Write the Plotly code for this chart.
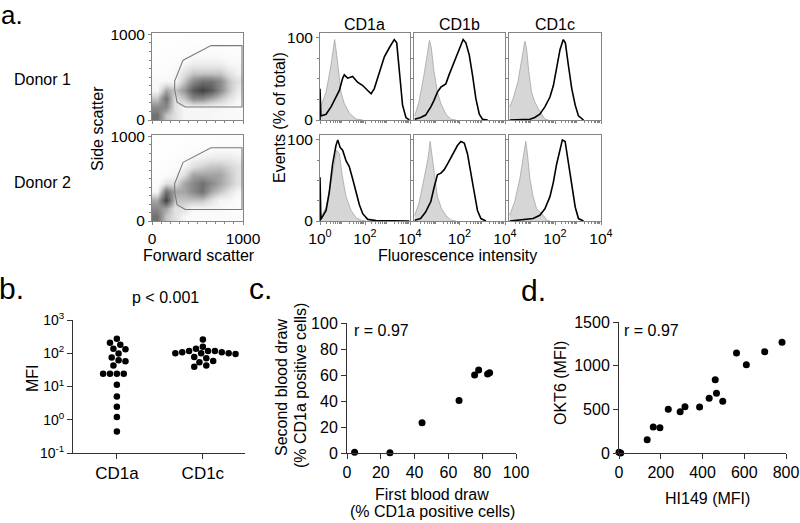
import numpy as np
import plotly.graph_objects as go

W, H = 800, 523
FONT = "Liberation Sans, Arial, sans-serif"

# ---------------- data: panel a, scatter (density) ----------------
fsc_bins = [50, 150, 250, 350, 450, 550, 650, 750, 850, 950]
ssc_bins = [50, 150, 250, 350, 450, 550, 650, 750, 850, 950]
donor1_density = [
    [6.0, 3.0, 2.0, 1.0, 1.0, 1.0, 1.0, 0.8, 0.8, 0.6],
    [5.0, 5.0, 2.0, 1.0, 1.0, 1.0, 1.0, 1.0, 0.8, 0.6],
    [3.0, 6.0, 2.0, 3.0, 5.0, 5.0, 4.0, 3.0, 2.0, 1.0],
    [1.0, 4.0, 3.0, 4.5, 7.0, 8.0, 7.0, 5.0, 3.0, 1.5],
    [0.8, 1.0, 1.0, 3.0, 5.0, 6.0, 6.0, 5.0, 3.0, 2.0],
    [0.5, 0.5, 1.0, 2.0, 3.0, 3.0, 3.0, 3.0, 2.0, 1.2],
    [0.3, 0.3, 0.5, 1.0, 1.5, 1.5, 1.5, 1.5, 1.0, 1.0],
    [0.2, 0.3, 0.3, 0.5, 0.8, 0.8, 0.8, 0.7, 0.6, 0.5],
    [0.1, 0.2, 0.2, 0.3, 0.4, 0.4, 0.4, 0.4, 0.3, 0.3],
    [0.1, 0.1, 0.1, 0.2, 0.2, 0.2, 0.2, 0.2, 0.2, 0.2],
]
donor2_density = [
    [6.0, 3.0, 2.0, 1.0, 0.5, 0.5, 0.5, 0.5, 0.5, 0.5],
    [5.0, 4.0, 2.0, 2.0, 1.0, 1.0, 1.0, 1.0, 0.5, 0.5],
    [4.0, 8.0, 3.0, 3.0, 3.0, 3.0, 2.0, 1.0, 1.0, 0.5],
    [1.0, 6.0, 4.0, 4.0, 5.0, 6.0, 4.0, 3.0, 2.0, 1.0],
    [0.5, 2.0, 2.0, 4.0, 5.0, 6.0, 5.0, 4.0, 3.0, 2.0],
    [0.3, 0.5, 1.0, 2.0, 4.0, 4.0, 4.0, 4.0, 3.0, 2.0],
    [0.2, 0.3, 0.5, 1.0, 2.0, 2.5, 3.0, 3.0, 2.5, 2.0],
    [0.1, 0.2, 0.3, 0.5, 1.0, 1.2, 1.5, 1.5, 1.5, 1.2],
    [0.1, 0.1, 0.2, 0.3, 0.5, 0.6, 0.7, 0.8, 0.8, 0.7],
    [0.1, 0.1, 0.1, 0.2, 0.3, 0.3, 0.3, 0.4, 0.4, 0.4],
]
gate1_fsc = [341, 648, 989, 989, 366, 275, 249, 249, 341]
gate1_ssc = [698, 868, 868, 151, 151, 208, 358, 453, 698]
gate2_fsc = [341, 648, 989, 989, 366, 275, 249, 249, 341]
gate2_ssc = [692, 865, 865, 135, 135, 192, 346, 442, 692]

# ---------------- data: panel a, histograms (log10 intensity, % of max) ----------------
d1_cd1a_iso_x = [0, 0.27, 0.49, 0.56, 0.65, 0.74, 0.83, 0.93, 1.08, 1.30, 1.6, 1.9]
d1_cd1a_iso_y = [13.6, 34, 67, 84, 98, 80, 55, 34, 20, 8.6, 1.2, 0]
d1_cd1a_x = [0, 0, 0.04, 0.27, 0.49, 0.71, 0.86, 1.01, 1.08, 1.23, 1.45, 1.67, 1.90, 2.12, 2.27,
             2.41, 2.64, 2.86, 3.08, 3.30, 3.41, 3.53, 3.67, 3.82, 3.97]
d1_cd1a_y = [0, 38, 5, 7, 16, 28, 36, 51, 55, 51, 53, 46, 42, 36, 32,
             38, 59, 77, 88, 98, 94, 55, 18, 3, 0]
d1_cd1b_iso_x = [0.03, 0.22, 0.44, 0.59, 0.68, 0.76, 0.88, 1.03, 1.18, 1.40, 1.62, 1.84]
d1_cd1b_iso_y = [5, 22, 55, 79, 97, 88, 59, 34, 20, 7, 1, 0]
d1_cd1b_x = [0.03, 0.29, 0.51, 0.74, 0.88, 1.03, 1.18, 1.40, 1.54, 1.76, 1.99, 2.16, 2.28,
             2.43, 2.57, 2.72, 2.87, 3.01, 3.24]
d1_cd1b_y = [1, 3, 6, 16, 24, 34, 40, 44, 55, 71, 88, 98, 94, 79, 55, 26, 7, 1, 0]
d1_cd1c_iso_x = [0.03, 0.18, 0.39, 0.54, 0.69, 0.76, 0.86, 0.98, 1.12, 1.27, 1.42, 1.56, 1.71]
d1_cd1c_iso_y = [16, 26, 47, 71, 96, 88, 59, 34, 22, 14, 7, 1, 0]
d1_cd1c_x = [0.03, 0.91, 1.12, 1.34, 1.56, 1.78, 1.93, 2.07, 2.22, 2.36, 2.45, 2.58, 2.73,
             2.88, 3.02, 3.24]
d1_cd1c_y = [0, 1, 3, 7, 16, 28, 42, 63, 86, 98, 94, 67, 38, 18, 5, 0]

d2_cd1a_iso_x = [0, 0.27, 0.49, 0.64, 0.74, 0.86, 0.98, 1.16, 1.38, 1.6, 1.82, 2.04]
d2_cd1a_iso_y = [3, 17, 48, 74, 87, 83, 57, 30, 13, 4, 1, 0]
d2_cd1a_x = [0, 0, 0.04, 0.27, 0.41, 0.56, 0.71, 0.79, 0.89, 1.01, 1.16, 1.30, 1.45, 1.60,
             1.75, 1.90, 2.12, 2.49, 3.97]
d2_cd1a_y = [0, 54, 2, 13, 35, 70, 93, 100, 91, 87, 74, 67, 52, 35, 20, 9, 2, 0.5, 0]
d2_cd1b_iso_x = [0.03, 0.22, 0.44, 0.62, 0.71, 0.78, 0.91, 1.03, 1.21, 1.40, 1.62, 1.84]
d2_cd1b_iso_y = [7, 22, 52, 78, 98, 83, 52, 30, 15, 7, 1, 0]
d2_cd1b_x = [0.03, 0.29, 0.51, 0.74, 0.88, 1.03, 1.18, 1.32, 1.47, 1.62, 1.76, 1.91, 2.06,
             2.21, 2.35, 2.50, 2.65, 2.79, 2.94, 3.16]
d2_cd1b_y = [1, 3, 11, 24, 41, 57, 59, 63, 70, 78, 87, 93, 98, 96, 83, 61, 35, 13, 3, 0]
d2_cd1c_iso_x = [0.03, 0.25, 0.47, 0.61, 0.73, 0.80, 0.91, 1.05, 1.20, 1.34, 1.49, 1.64, 1.78]
d2_cd1c_iso_y = [7, 24, 52, 78, 98, 83, 52, 30, 15, 11, 7, 1, 0]
d2_cd1c_x = [0.03, 0.61, 1.05, 1.34, 1.56, 1.78, 1.93, 2.07, 2.22, 2.32, 2.44, 2.58, 2.73,
             2.88, 3.02, 3.24]
d2_cd1c_y = [0, 2, 3, 7, 15, 30, 48, 70, 89, 100, 98, 74, 43, 17, 3, 0]

hist_titles = ["CD1a", "CD1b", "CD1c"]

# ---------------- data: panel b ----------------
mfi_categories = ["CD1a", "CD1c"]
mfi_cd1a = [273, 207, 180, 137, 131, 99, 75, 62, 57, 43, 24, 24, 24, 24, 11.2, 5.0, 2.44, 1.22, 0.44]
mfi_cd1c = [261, 157, 137, 116, 116, 116, 108, 108, 100, 100, 100, 95, 77, 71, 58, 54, 43, 39]

# ---------------- data: panel c ----------------
first_draw = [4.5, 25.4, 44.4, 66.3, 75.5, 77.9, 83.2, 84.4]
second_draw = [0.5, 0.2, 23.3, 40.3, 60.0, 63.8, 60.8, 61.8]

# ---------------- data: panel d ----------------
hi149 = [0, 8, 135, 164, 196, 236, 293, 316, 386, 432, 461, 467, 497, 563, 610, 698, 781]
okt6 = [8, 0, 153, 298, 290, 500, 473, 531, 527, 626, 840, 683, 592, 1145, 1011, 1160, 1267]


def xdom(a, b):
    return [a / W, b / W]


def ydom(top, bot):
    return [1 - bot / H, 1 - top / H]


fig = go.Figure()
layout = dict(width=W, height=H, margin=dict(l=0, r=0, t=0, b=0, pad=0, autoexpand=False),
              paper_bgcolor="white", plot_bgcolor="white", showlegend=False,
              font=dict(family=FONT, color="black"))
annotations = []

FRAME = "#858585"
tickfont_a = dict(family=FONT, size=15.5, color="black")

# --- scatter (FSC/SSC) panels ---
rows_px = [(33, 120), (135, 221)]
for i, (dens, gx, gy) in enumerate([(donor1_density, gate1_fsc, gate1_ssc),
                                     (donor2_density, gate2_fsc, gate2_ssc)]):
    n = i + 1
    fig.add_trace(go.Heatmap(x=fsc_bins, y=ssc_bins, z=dens, zsmooth="best", showscale=False,
                             zmin=0, zmax=9,
                             colorscale=[[0, "rgb(255,255,255)"], [0.1, "rgb(248,248,248)"],
                                         [0.25, "rgb(220,220,220)"], [0.5, "rgb(150,150,150)"],
                                         [1, "rgb(40,40,40)"]],
                             xaxis=f"x{n}", yaxis=f"y{n}", hoverinfo="skip"))
    fig.add_trace(go.Scatter(x=gx, y=gy, mode="lines", line=dict(color="#7a7a7a", width=1.1),
                             xaxis=f"x{n}", yaxis=f"y{n}"))
    top, bot = rows_px[i]
    layout[f"xaxis{n}"] = dict(domain=xdom(152, 243), anchor=f"y{n}", range=[0, 1000],
                               showline=True, mirror=True, linecolor=FRAME, showgrid=False,
                               zeroline=False, ticks="outside", ticklen=3, tickcolor=FRAME,
                               tickvals=[0, 1000], showticklabels=(n == 2), tickfont=tickfont_a,
                               minor=dict(ticks="outside", ticklen=2, tickcolor=FRAME, dtick=100))
    layout[f"yaxis{n}"] = dict(domain=ydom(top, bot), anchor=f"x{n}", range=[0, 1015],
                               showline=True, mirror=True, linecolor=FRAME, showgrid=False,
                               zeroline=False, ticks="outside", ticklen=3, tickcolor=FRAME,
                               tickvals=[0, 1000], tickfont=tickfont_a,
                               minor=dict(ticks="outside", ticklen=2, tickcolor=FRAME, dtick=100))

# --- histograms ---
hist_cols_px = [(320, 410), (414, 505), (509, 601)]
hist_sets = [
    [(d1_cd1a_iso_x, d1_cd1a_iso_y, d1_cd1a_x, d1_cd1a_y),
     (d1_cd1b_iso_x, d1_cd1b_iso_y, d1_cd1b_x, d1_cd1b_y),
     (d1_cd1c_iso_x, d1_cd1c_iso_y, d1_cd1c_x, d1_cd1c_y)],
    [(d2_cd1a_iso_x, d2_cd1a_iso_y, d2_cd1a_x, d2_cd1a_y),
     (d2_cd1b_iso_x, d2_cd1b_iso_y, d2_cd1b_x, d2_cd1b_y),
     (d2_cd1c_iso_x, d2_cd1c_iso_y, d2_cd1c_x, d2_cd1c_y)],
]
minor_log = [m * 10 ** k for k in range(0, 4) for m in range(2, 10)]
n = 3
for r in range(2):
    for c in range(3):
        ix, iy, sx, sy = hist_sets[r][c]
        fig.add_trace(go.Scatter(x=[10 ** v for v in ix], y=iy, mode="lines", fill="tozeroy",
                                 fillcolor="#d6d6d6", line=dict(color="#a5a5a5", width=0.8),
                                 xaxis=f"x{n}", yaxis=f"y{n}"))
        fig.add_trace(go.Scatter(x=[10 ** v for v in sx], y=sy, mode="lines",
                                 line=dict(color="black", width=1.6),
                                 xaxis=f"x{n}", yaxis=f"y{n}"))
        a, b = hist_cols_px[c]
        top, bot = rows_px[r]
        if c == 0:
            tv, tt = [1, 100, 10000], ["10<sup>0</sup>", "10<sup>2</sup>", "10<sup>4</sup>"]
        else:
            tv, tt = [100, 10000], ["10<sup>2</sup>", "10<sup>4</sup>"]
        layout[f"xaxis{n}"] = dict(domain=xdom(a, b), anchor=f"y{n}", type="log", range=[0, 4],
                                   showline=True, mirror=True, linecolor=FRAME, showgrid=False,
                                   zeroline=False, ticks="outside", ticklen=3, tickcolor=FRAME,
                                   tickvals=tv, ticktext=tt, showticklabels=(r == 1),
                                   tickfont=tickfont_a,
                                   minor=dict(ticks="outside", ticklen=2, tickcolor=FRAME,
                                              tickvals=minor_log))
        layout[f"yaxis{n}"] = dict(domain=ydom(top, bot), anchor=f"x{n}", range=[0, 106],
                                   showline=True, mirror=True, linecolor=FRAME, showgrid=False,
                                   zeroline=False, ticks="outside", ticklen=3, tickcolor=FRAME,
                                   tickvals=[0, 100], showticklabels=(c == 0), tickfont=tickfont_a,
                                   minor=dict(ticks="outside", ticklen=2, tickcolor=FRAME,
                                              tickvals=[25, 50, 75]))
        n += 1


# --- panel b (beeswarm layout computed in pixel space) ---
def swarm(values, center, ppu=86.0, ppd=33.2, step=0.02, diam=6.6):
    placed, xs = [], []
    order = [0]
    for k in range(1, 60):
        order += [-k, k]
    for v in values:
        yp = np.log10(v) * ppd
        for k in order:
            xp = k * step * ppu
            if all((xp - px) ** 2 + (yp - py) ** 2 >= diam ** 2 for px, py in placed):
                break
        placed.append((xp, yp))
        xs.append(center + k * step)
    return xs


MS = 6.5
for ci, vals in enumerate([mfi_cd1a, mfi_cd1c]):
    fig.add_trace(go.Scatter(x=swarm(vals, ci + 1), y=vals, mode="markers",
                             marker=dict(color="black", size=MS), cliponaxis=False,
                             xaxis="x9", yaxis="y9"))
AX = "#333333"
layout["xaxis9"] = dict(domain=xdom(73, 245), anchor="y9", range=[0.49, 2.49], showline=True,
                        linecolor=AX, showgrid=False, zeroline=False, ticks="outside", ticklen=5,
                        tickcolor=AX, tickvals=[1, 2], ticktext=mfi_categories,
                        tickfont=dict(family=FONT, size=17))
layout["yaxis9"] = dict(domain=ydom(320, 453), anchor="x9", type="log", range=[-1, 3],
                        showline=True, linecolor=AX, showgrid=False, zeroline=False,
                        ticks="outside", ticklen=5, tickcolor=AX,
                        tickvals=[0.1, 1, 10, 100, 1000],
                        ticktext=["10<sup>-1</sup>", "10<sup>0</sup>", "10<sup>1</sup>",
                                  "10<sup>2</sup>", "10<sup>3</sup>"],
                        tickfont=dict(family=FONT, size=14))

# --- panel c ---
fig.add_trace(go.Scatter(x=first_draw, y=second_draw, mode="markers",
                         marker=dict(color="black", size=7), cliponaxis=False,
                         xaxis="x10", yaxis="y10"))
tf16 = dict(family=FONT, size=16)
layout["xaxis10"] = dict(domain=xdom(347, 516), anchor="y10", range=[0, 100], dtick=20,
                         showline=True, linecolor=AX, showgrid=False, zeroline=False,
                         ticks="outside", ticklen=5, tickcolor=AX, tickfont=tf16)
layout["yaxis10"] = dict(domain=ydom(323, 453), anchor="x10", range=[0, 100], dtick=20,
                         showline=True, linecolor=AX, showgrid=False, zeroline=False,
                         ticks="outside", ticklen=5, tickcolor=AX, tickfont=tf16)

# --- panel d ---
fig.add_trace(go.Scatter(x=hi149, y=okt6, mode="markers",
                         marker=dict(color="black", size=7), cliponaxis=False,
                         xaxis="x11", yaxis="y11"))
layout["xaxis11"] = dict(domain=xdom(619, 786), anchor="y11", range=[0, 800], dtick=200,
                         showline=True, linecolor=AX, showgrid=False, zeroline=False,
                         ticks="outside", ticklen=5, tickcolor=AX, tickfont=tf16)
layout["yaxis11"] = dict(domain=ydom(322, 453), anchor="x11", range=[0, 1500], dtick=500,
                         showline=True, linecolor=AX, showgrid=False, zeroline=False,
                         ticks="outside", ticklen=5, tickcolor=AX, tickfont=tf16)


# --- text ---
def txt(s, x, y, size=16, angle=0, xanchor="center"):
    annotations.append(dict(text=s, x=x / W, y=1 - y / H, xref="paper", yref="paper",
                            showarrow=False, xanchor=xanchor, yanchor="middle",
                            textangle=angle, font=dict(family=FONT, size=size, color="black")))


txt("a.", 12, 15, size=26)
txt("b.", 11, 288, size=30)
txt("c.", 260, 288, size=30)
txt("d.", 533, 290, size=30)
txt("Donor 1", 42, 80)
txt("Donor 2", 42, 182)
txt("Side scatter", 97, 129, angle=-90)
txt("Forward scatter", 199, 255)
txt("Events (% of total)", 279, 118, angle=-90)
txt("Fluorescence intensity", 457, 255)
for t, cx in zip(hist_titles, [364, 459, 555]):
    txt(t, cx, 24)
txt("p < 0.001", 165, 297)
txt("MFI", 32, 378, angle=-90)
txt("r = 0.97", 352, 330, xanchor="left")
txt("Second blood draw", 281, 388, angle=-90)
txt("(% CD1a positive cells)", 300, 386, angle=-90)
txt("First blood draw", 432, 494)
txt("(% CD1a positive cells)", 432, 511)
txt("r = 0.97", 622, 330, xanchor="left")
txt("OKT6 (MFI)", 560, 383, angle=-90)
txt("HI149 (MFI)", 707, 498)

layout["annotations"] = annotations
fig.update_layout(**layout)
fig.write_html("out.html", config={"displayModeBar": False},
               post_script="document.body.style.margin='0';document.body.style.padding='0';")
